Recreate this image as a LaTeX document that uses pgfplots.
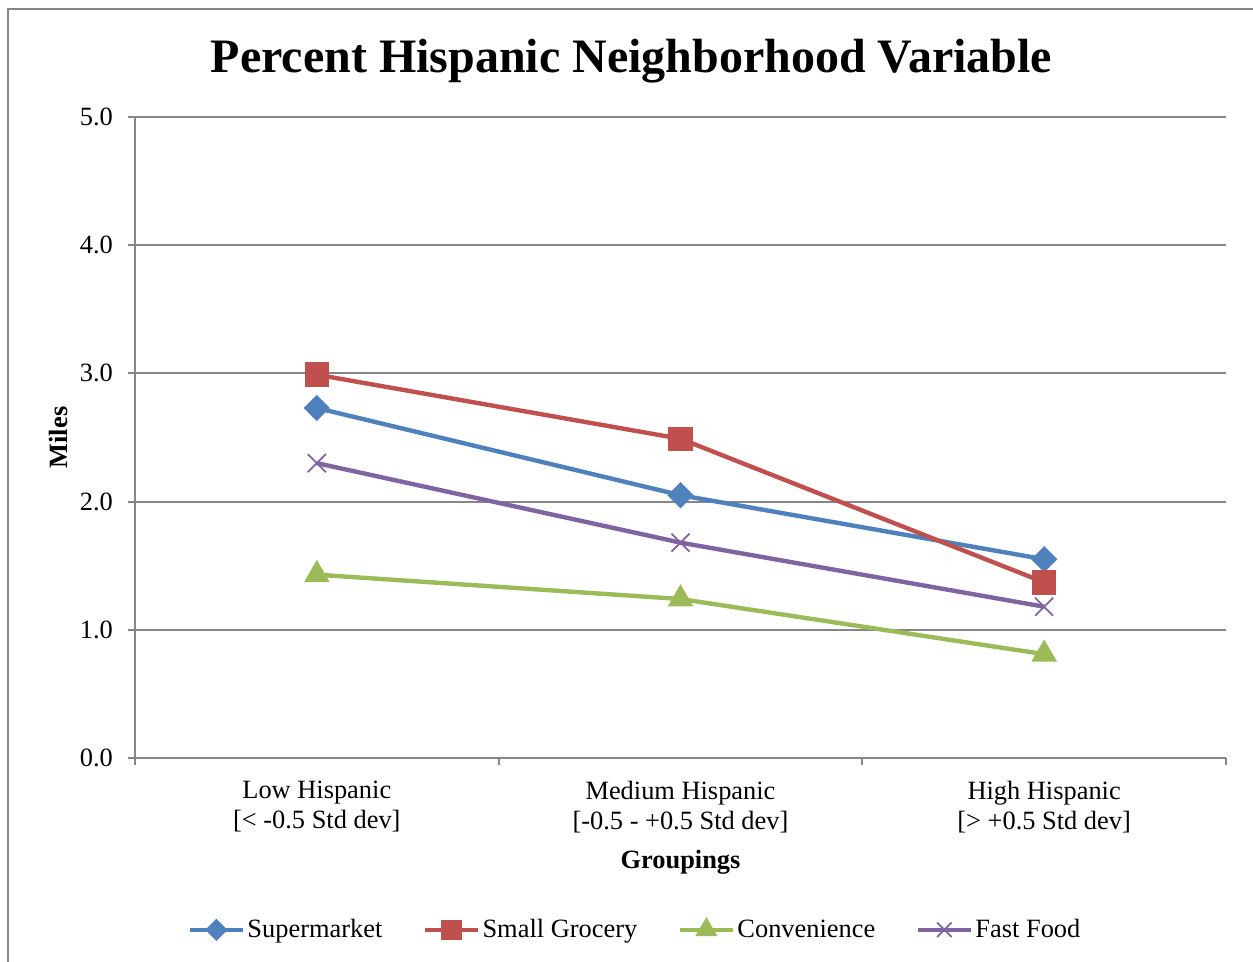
\documentclass[border=0pt]{standalone}
\usepackage{fontspec}
\setmainfont{Liberation Serif}
\usepackage{pgfplots}
\pgfplotsset{compat=1.18}

\definecolor{cSuper}{HTML}{4F81BD}
\definecolor{cGroc}{HTML}{C0504D}
\definecolor{cConv}{HTML}{9BBB59}
\definecolor{cFast}{HTML}{8064A2}
\definecolor{frameGray}{HTML}{868686}

\begin{document}
\begin{tikzpicture}
\useasboundingbox (0,0) rectangle (626.5pt,481pt);
% outer chart frame
\draw[frameGray, line width=1pt] (4pt,0pt) -- (4pt,476.5pt) -- (630pt,476.5pt);
\begin{axis}[
  at={(67.5pt,102pt)}, anchor=south west,
  scale only axis, width=545.5pt, height=320.5pt,
  xmin=-0.5, xmax=2.5, ymin=0, ymax=5,
  axis x line*=bottom, axis y line*=left,
  axis line style={frameGray, line width=1pt, -},
  % category boundaries carry the tick marks
  xtick={-0.5,0.5,1.5,2.5},
  xticklabels={},
  % category names sit at the centres, without marks
  extra x ticks={0,1,2},
  extra x tick labels={{Low Hispanic\\{[}< -0.5 Std dev{]}},
               {Medium Hispanic\\{[}-0.5 - +0.5 Std dev{]}},
               {High Hispanic\\{[}> +0.5 Std dev{]}}},
  extra x tick style={major tick length=0pt,
    tick label style={align=center, font=\fontsize{13.2}{15}\selectfont, yshift=-8pt}},
  major tick length=3.5pt,
  ytick={0,1,2,3,4,5},
  tick align=outside,
  tick style={frameGray, line width=1pt},
  ymajorgrids,
  grid style={frameGray, line width=1pt},
  yticklabel style={font=\fontsize{13.2}{15}\selectfont, xshift=-4pt},
  /pgf/number format/.cd, fixed, fixed zerofill, precision=1, assume math mode=true,
  /pgfplots/.cd,
  title={Percent Hispanic Neighborhood Variable},
  title style={font=\fontsize{24}{28}\selectfont\bfseries, at={(axis description cs:0.455,1.051)}, anchor=base},
  xlabel={Groupings},
  xlabel style={font=\fontsize{13.2}{15}\selectfont\bfseries, at={(axis description cs:0.5,-0.172)}, anchor=base},
  ylabel={Miles},
  ylabel style={font=\fontsize{13.2}{15}\selectfont\bfseries, at={(axis description cs:-0.0706,0.5)}, anchor=center, rotate=0},
  legend style={draw=none, fill=none, font=\fontsize{13.2}{15}\selectfont,
    at={(axis description cs:0.4585,-0.268)}, anchor=center,
    nodes={inner xsep=1.2pt},
    /tikz/every even column/.append style={column sep=19pt}},
  legend columns=4,
  legend cell align=left,
  legend image code/.code={%
    \draw[mark repeat=2,mark phase=2,#1,every mark/.append style={scale=0.8}]
      plot coordinates {(0pt,0pt) (13.25pt,0pt) (26.5pt,0pt)};},
  clip=false,
]
\addplot[cSuper, line width=2.2pt, mark=square*, mark size=3.54pt, mark options={rotate=45, solid, fill=cSuper}]
  coordinates {(0,2.73) (1,2.05) (2,1.55)};
\addlegendentry{Supermarket}
\addplot[cGroc, line width=2.2pt, mark=square*, mark size=5pt, mark options={solid, fill=cGroc}]
  coordinates {(0,2.99) (1,2.49) (2,1.37)};
\addlegendentry{Small Grocery}
\addplot[cConv, line width=2.2pt, mark=triangle*, mark size=5.2pt, mark options={solid, fill=cConv}]
  coordinates {(0,1.43) (1,1.24) (2,0.81)};
\addlegendentry{Convenience}
\addplot[cFast, line width=2.2pt, mark=x, mark size=6.4pt, mark options={solid, line width=0.9pt}]
  coordinates {(0,2.30) (1,1.68) (2,1.18)};
\addlegendentry{Fast Food}
\end{axis}
\end{tikzpicture}
\end{document}
